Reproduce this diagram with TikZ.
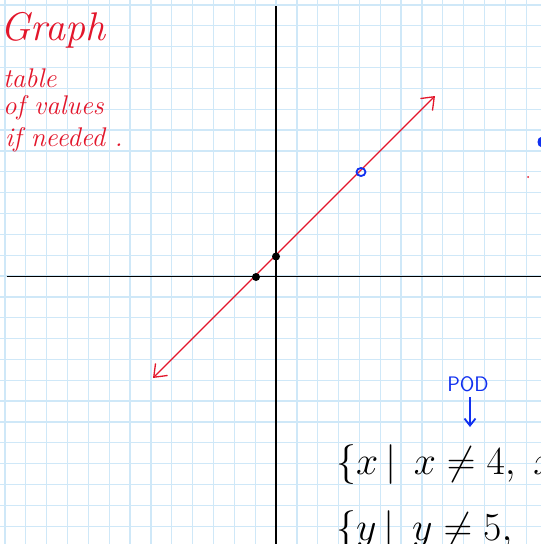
\documentclass[tikz,border=0pt]{standalone}
\usepackage{fontspec}
\usetikzlibrary{arrows.meta}
\definecolor{gridblue}{HTML}{CFE8F8}
\definecolor{penred}{HTML}{E3162B}
\definecolor{penblue}{HTML}{1030F0}
\begin{document}
\begin{tikzpicture}[x=1pt,y=-1pt,
  gridline/.style={gridblue,line width=1.3pt},
  axisline/.style={black,line width=1.6pt},
  redline/.style={penred,line width=1.3pt},
  redtext/.style={penred,anchor=base west,inner sep=0pt},
  blacktext/.style={black,anchor=base west,inner sep=0pt,font=\Huge,scale=1.6},
  dot/.style={circle,fill=black,inner sep=0pt,minimum size=8pt}]
\useasboundingbox (0,0) rectangle (541,544);
\clip (0,0) rectangle (541,544);
\fill[white] (0,0) rectangle (541,544);
% grid
\foreach \k in {-13,...,12}{
  \draw[gridline] ({276+20.85*\k},0) -- ({276+20.85*\k},544);
  \draw[gridline] (0,{276+20.85*\k}) -- (541,{276+20.85*\k});
}
% axes
\coordinate (ytop) at (276,6);
\coordinate (ybot) at (276,544);
\coordinate (xleft) at (7,276.5);
\coordinate (xright) at (541,276.5);
\draw[axisline] (ytop) -- (ybot);
\draw[axisline] (xleft) -- (xright);
% line y = x + 1
\coordinate (lo) at (153,378);
\coordinate (hi) at (435,96);
\draw[redline,{Straight Barb[length=11pt,width=17pt,line width=1.3pt]}-{Straight Barb[length=11pt,width=17pt,line width=1.3pt]}] (lo) -- (hi);
% points
\node[dot] (p1) at (256,277) {};
\node[dot] (p2) at (276,256.5) {};
\draw[penblue,line width=1.8pt] (361,172) ellipse [x radius=4.5,y radius=4];
\coordinate (hole) at (361,172);
% red notes
\node[redtext,font=\fontsize{40}{40}\selectfont\itshape] (graph) at (0,40) {Graph};
\node[redtext,font=\fontsize{27}{27}\selectfont\itshape] (table) at (3,87) {table};
\node[redtext,font=\fontsize{27}{27}\selectfont\itshape] (values) at (3,114) {of values};
\node[redtext,font=\fontsize{27}{27}\selectfont\itshape] (needed) at (5,146) {if needed .};
% right edge marks
\fill[penblue] (541,142) ellipse [x radius=3.5,y radius=5];
\fill[penred] (528,177) circle (1pt);
% POD
\node[penblue,inner sep=0pt,font=\sffamily\fontsize{21}{21}\selectfont] (pod) at (468,384) {POD};
\coordinate (podtip) at (470,427);
\draw[penblue,line width=1.8pt,-{Straight Barb[length=7pt,width=11pt,line width=1.8pt]}] (pod.south) ++(2,5) -- (podtip);
% domain and range
\node[blacktext] (domain) at (336,474) {$\{x\,|\;\,x\neq 4,\;x$};
\node[blacktext] (range) at (336,540) {$\{y\,|\;\,y\neq 5,$};
\end{tikzpicture}
\end{document}
